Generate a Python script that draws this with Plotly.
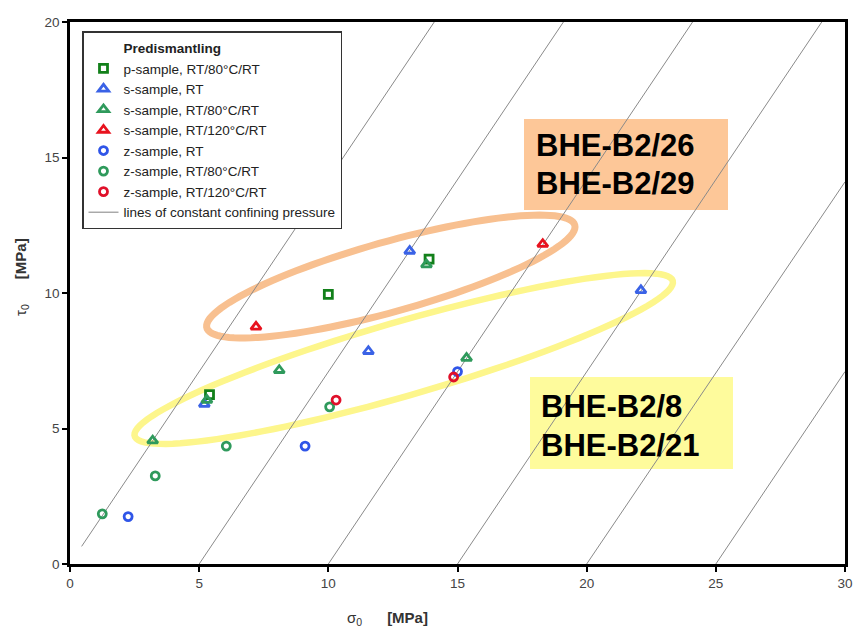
import numpy as np
import plotly.graph_objects as go

# ---- data ----
p_x = [10.0, 13.9, 5.4]
p_y = [9.95, 11.25, 6.25]
sRT_x = [13.15, 11.55, 22.1, 5.2]
sRT_y = [11.55, 7.85, 10.1, 5.9]
s80_x = [13.8, 8.1, 15.35, 3.2, 5.3]
s80_y = [11.05, 7.15, 7.6, 4.55, 6.05]
s120_x = [7.2, 18.3]
s120_y = [8.75, 11.8]
zRT_x = [2.25, 9.1, 15.0]
zRT_y = [1.75, 4.35, 7.1]
z80_x = [1.25, 3.3, 6.05, 10.05]
z80_y = [1.85, 3.25, 4.35, 5.8]
z120_x = [10.3, 14.85]
z120_y = [6.05, 6.9]

# lines of constant confining pressure: start / end points
line_x0 = [0.45, 5, 10, 15, 20, 25]
line_y0 = [0.65, 0, 0, 0, 0, 0]
line_x1 = [14.1, 19.1, 24.1, 29.1, 30, 30]
line_y1 = [20, 20, 20, 20, 14.1, 7.1]

x_ticks = [0, 5, 10, 15, 20, 25, 30]
y_ticks = [0, 5, 10, 15, 20]

# ---- layout geometry ----
W, H = 854, 632
L, R, T, B = 70, 9, 22, 68
PW, PH = W - L - R, H - T - B


def to_paper(px, py):
    return (px - L) / PW, (H - B - py) / PH


def ellipse_path(cx, cy, a, b, deg):
    th = np.radians(deg)
    t = np.linspace(0, 2 * np.pi, 120)
    px = cx + a * np.cos(t) * np.cos(th) - b * np.sin(t) * np.sin(th)
    py = cy - (a * np.cos(t) * np.sin(th) + b * np.sin(t) * np.cos(th))
    pts = [to_paper(x, y) for x, y in zip(px, py)]
    return "M " + " L ".join(f"{x:.5f},{y:.5f}" for x, y in pts) + " Z"


fig = go.Figure()

# legend title as a pseudo-entry
fig.add_trace(go.Scatter(x=[None], y=[None], mode="markers", name="<b>Predismantling</b>",
                         marker=dict(color="rgba(0,0,0,0)", size=1)))

series = [
    ("p-sample, RT/80°C/RT", p_x, p_y, "square-open", "#12801a", 8),
    ("s-sample, RT", sRT_x, sRT_y, "triangle-up-open", "#3a62e6", 9),
    ("s-sample, RT/80°C/RT", s80_x, s80_y, "triangle-up-open", "#2f9a5c", 9),
    ("s-sample, RT/120°C/RT", s120_x, s120_y, "triangle-up-open", "#e8121e", 9),
    ("z-sample, RT", zRT_x, zRT_y, "circle-open", "#2f55e8", 8),
    ("z-sample, RT/80°C/RT", z80_x, z80_y, "circle-open", "#2f9a5c", 8),
    ("z-sample, RT/120°C/RT", z120_x, z120_y, "circle-open", "#e0102a", 8),
]
for name, xs, ys, sym, col, sz in series:
    fig.add_trace(go.Scatter(x=xs, y=ys, mode="markers", name=name,
                             marker=dict(symbol=sym, size=sz, color=col,
                                         line=dict(color=col, width=2.8))))

fig.add_trace(go.Scatter(x=[None], y=[None], mode="lines",
                         name="lines of constant confining pressure",
                         line=dict(color="#808080", width=1)))

shapes = []
for x0, y0, x1, y1 in zip(line_x0, line_y0, line_x1, line_y1):
    shapes.append(dict(type="line", xref="x", yref="y", x0=x0, y0=y0, x1=x1, y1=y1,
                       line=dict(color="#8a8a8a", width=1), layer="below"))

shapes.append(dict(type="path", xref="paper", yref="paper",
                   path=ellipse_path(390.8, 276.5, 191, 35, 15.6),
                   line=dict(color="#f8c090", width=7), layer="below"))
shapes.append(dict(type="path", xref="paper", yref="paper",
                   path=ellipse_path(403.7, 358.5, 280, 37, 16.1),
                   line=dict(color="#fdf68c", width=6.5), layer="below"))

for (bx0, by0, bx1, by1, col) in [(524, 119, 728, 210, "#fdc798"),
                                  (530, 377, 733, 469, "#fefb9c")]:
    ax0, ay0 = to_paper(bx0, by1)
    ax1, ay1 = to_paper(bx1, by0)
    shapes.append(dict(type="rect", xref="paper", yref="paper", x0=ax0, y0=ay0,
                       x1=ax1, y1=ay1, fillcolor=col, line=dict(width=0), layer="below"))

annotations = []
for txt, px, py in [("BHE-B2/26", 534, 145), ("BHE-B2/29", 534, 184),
                    ("BHE-B2/8", 539, 406), ("BHE-B2/21", 539, 445)]:
    ax, ay = to_paper(px, py)
    annotations.append(dict(text=f"<b>{txt}</b>", x=ax, y=ay, xref="paper", yref="paper",
                            xanchor="left", yanchor="middle", showarrow=False,
                            font=dict(family="Liberation Sans, Arial", size=31, color="#000")))

ax, ay = to_paper(345, 618)
annotations.append(dict(text="σ<sub>0</sub>      <b>[MPa]</b>", x=ax, y=ay, xref="paper", yref="paper",
                        showarrow=False, xanchor="left", yanchor="middle",
                        font=dict(family="Liberation Sans, Arial", size=15, color="#333")))
ax, ay = to_paper(22, 318)
annotations.append(dict(text="τ<sub>0</sub>      <b>[MPa]</b>", x=ax, y=ay, xref="paper", yref="paper",
                        showarrow=False, xanchor="center", yanchor="bottom", textangle=-90,
                        font=dict(family="Liberation Sans, Arial", size=15, color="#333")))

lgx, lgy = to_paper(82, 31)

fig.update_layout(
    width=W, height=H,
    margin=dict(l=L, r=R, t=T, b=B, autoexpand=False),
    paper_bgcolor="white", plot_bgcolor="white",
    font=dict(family="Liberation Sans, Arial", color="#333"),
    shapes=shapes, annotations=annotations,
    showlegend=True,
    legend=dict(x=lgx, y=lgy, xanchor="left", yanchor="top",
                bgcolor="white", bordercolor="#333", borderwidth=1.5,
                font=dict(size=13.5, color="#222"), tracegroupgap=0,
                itemsizing="trace"),
    xaxis=dict(range=[0, 30], tickvals=x_ticks, ticks="outside", ticklen=5, tickwidth=2,
               tickcolor="#000", showgrid=False, zeroline=False, showline=True,
               linecolor="#000", linewidth=2.5, mirror=True, automargin=False,
               tickfont=dict(size=13.5, color="#444")),
    yaxis=dict(range=[0, 20], tickvals=y_ticks, ticks="outside", ticklen=5, tickwidth=2,
               tickcolor="#000", showgrid=False, zeroline=False, showline=True,
               linecolor="#000", linewidth=2.5, mirror=True, automargin=False,
               tickfont=dict(size=13.5, color="#444")),
)

fig.write_html("out.html")
